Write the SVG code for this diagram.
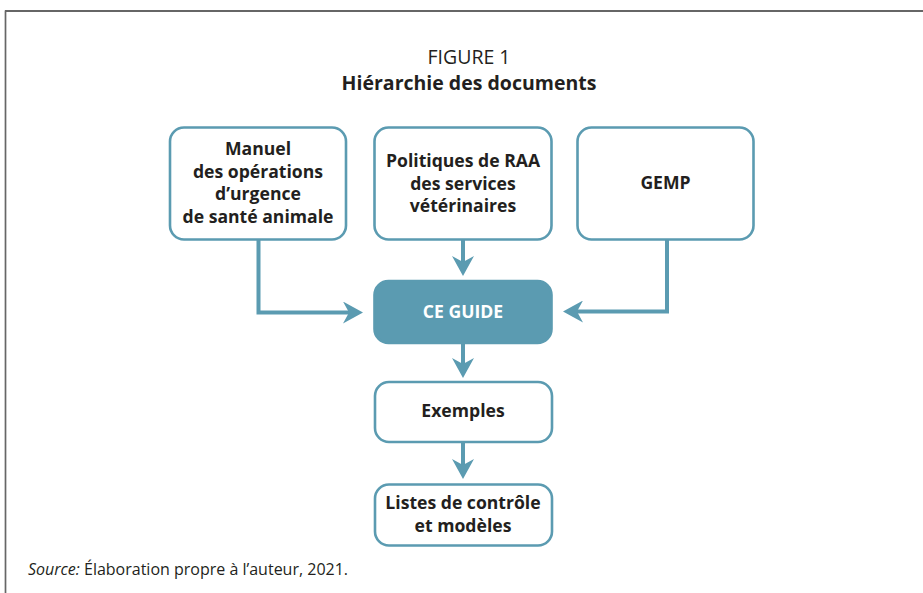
<svg xmlns="http://www.w3.org/2000/svg" width="923" height="593" viewBox="0 0 923 593">
  <style>
    .frame { fill: none; stroke-width: 1.7; }
    .box { fill: #ffffff; stroke: #5b9bb1; stroke-width: 2.6; }
    .hub { fill: #5b9bb1; stroke: #5b9bb1; stroke-width: 2.6; }
    .lbl { font-family: "Open Sans", "Noto Sans", "Liberation Sans", sans-serif; font-size: 17.6px; font-weight: 700; fill: #231f20; text-anchor: middle; }
    .hub-lbl { fill: #ffffff; }
    .title { font-family: "Open Sans", "Noto Sans", "Liberation Sans", sans-serif; font-size: 19.5px; fill: #231f20; text-anchor: middle; }
    .src { font-family: "Open Sans", "Noto Sans", "Liberation Sans", sans-serif; font-size: 16px; fill: #231f20; }
    .conn { fill: none; stroke: #5b9bb1; stroke-width: 4; marker-end: url(#head); }
  </style>
  <defs>
    <marker id="head" markerUnits="userSpaceOnUse" viewBox="0 0 20 22" markerWidth="20" markerHeight="22" refX="7" refY="11" orient="auto">
      <path d="M0,0 L20,11 L0,22 L6,11 Z" fill="#5b9bb1"/>
    </marker>
  </defs>

  <rect width="923" height="593" fill="#ffffff"/>

  <!-- outer frame (top and left edges visible) -->
  <line class="frame" x1="5" y1="11" x2="923" y2="11" stroke="#333333"/>
  <line class="frame" x1="5.5" y1="10.5" x2="5.5" y2="593" stroke="#666666"/>

  <!-- heading -->
  <text class="title" x="469" y="64">FIGURE 1</text>
  <text class="title" x="469" y="90" font-weight="700">Hiérarchie des documents</text>

  <!-- connectors -->
  <g id="connectors">
    <path class="conn" d="M258.5,240 V312.5 H350"/>
    <path class="conn" d="M463,240 V263"/>
    <path class="conn" d="M667,240 V311.5 H576"/>
    <path class="conn" d="M463,344 V365"/>
    <path class="conn" d="M463,443 V466"/>
  </g>

  <g id="manuel">
    <rect class="box" x="170" y="127.5" width="176" height="112" rx="14"/>
    <text class="lbl" x="258" y="155">Manuel</text>
    <text class="lbl" x="258" y="177.5">des opérations</text>
    <text class="lbl" x="258" y="200">d’urgence</text>
    <text class="lbl" x="258" y="222.5">de santé animale</text>
  </g>

  <g id="politiques">
    <rect class="box" x="374.5" y="127.5" width="177" height="112" rx="14"/>
    <text class="lbl" x="463" y="167">Politiques de RAA</text>
    <text class="lbl" x="463" y="189.5">des services</text>
    <text class="lbl" x="463" y="212">vétérinaires</text>
  </g>

  <g id="gemp">
    <rect class="box" x="577.5" y="127.5" width="176" height="112" rx="14"/>
    <text class="lbl" x="665.5" y="189">GEMP</text>
  </g>

  <g id="guide">
    <rect class="hub" x="374.5" y="281" width="177" height="62" rx="14"/>
    <text class="lbl hub-lbl" x="463" y="318">CE GUIDE</text>
  </g>

  <g id="exemples">
    <rect class="box" x="375" y="382" width="177" height="60" rx="14"/>
    <text class="lbl" x="463" y="417">Exemples</text>
  </g>

  <g id="listes">
    <rect class="box" x="375" y="484.5" width="177" height="61" rx="14"/>
    <text class="lbl" x="463" y="508.5">Listes de contrôle</text>
    <text class="lbl" x="463" y="531.5">et modèles</text>
  </g>

  <text class="src" x="28" y="575"><tspan font-style="italic">Source:</tspan> Élaboration propre à l’auteur, 2021.</text>
</svg>
